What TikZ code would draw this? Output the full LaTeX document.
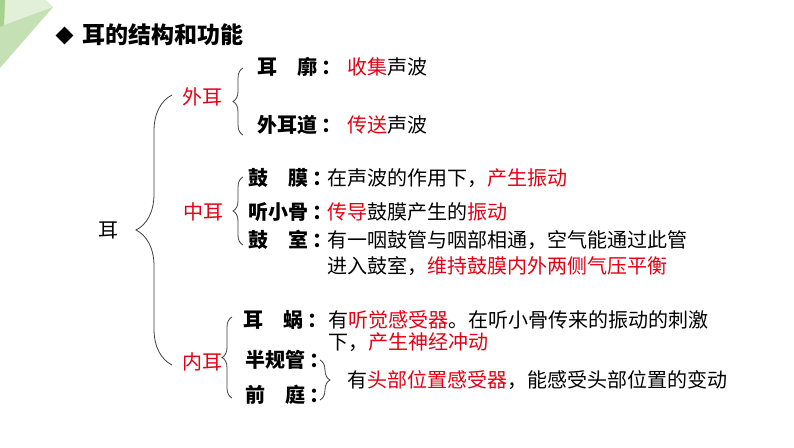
\documentclass[tikz,border=0pt]{standalone}
\usepackage{fontspec}
\setmainfont{Noto Sans CJK SC}
\usetikzlibrary{decorations.pathreplacing,shapes.geometric}
\definecolor{earred}{RGB}{228,0,20}
\definecolor{leafA}{RGB}{197,224,180}
\definecolor{leafB}{RGB}{226,239,217}
\definecolor{leafC}{RGB}{169,209,142}
\newcommand{\sep}{\hspace{0.2em}：}
\tikzset{
  item/.style={anchor=west,inner sep=0pt,text height=17.6pt,text depth=2.4pt,
    font=\fontsize{20}{24}\selectfont},
  part/.style={item,text=earred},
  organ/.style={item,font=\fontsize{20}{24}\selectfont\bfseries},
  curly/.style={decorate,decoration={brace,amplitude=#1},draw=black!75,line width=0.8pt},
}
\begin{document}
\begin{tikzpicture}[x=1pt,y=-1pt]
      \useasboundingbox (0,0) rectangle (794,447);
      \fill[white] (0,0) rectangle (794,447);
      %% corner leaf
      \fill[leafA] (0,0) -- (45,0) -- (53,7) -- (0,68) -- cycle;
      \fill[leafB] (5,0) -- (45,0) -- (53,7) -- (4,25) -- cycle;
      \fill[leafC] (0,0) -- (5,0) -- (4,25) -- (0,27) -- cycle;
      %% title
      \node[diamond,fill=black,minimum size=18pt,inner sep=0pt] (bullet) at (64.5,35.5) {};
      \node[item,text height=20.2pt,text depth=2.8pt,font=\fontsize{23}{28}\selectfont\bfseries] (title) at (82,35) {耳的结构和功能};
      %% root and parts
      \node[item] (ear) at (98,230) {耳};
      \node[part] (outer) at (182,97) {外耳};
      \node[part] (middle) at (183,212) {中耳};
      \node[part] (inner) at (182,362) {内耳};
      %% outer ear
      \node[organ] (pinna) at (257,67) {耳\hspace{1em}廓\sep};
      \node[item] (pinnaF) at (347,67) {\textcolor{earred}{收集}声波};
      \node[organ] (canal) at (257,125) {外耳道\sep};
      \node[item] (canalF) at (347,125) {\textcolor{earred}{传送}声波};
      %% middle ear
      \node[organ] (drum) at (248,178) {鼓\hspace{1em}膜\sep};
      \node[item] (drumF) at (327,178) {在声波的作用下，\textcolor{earred}{产生振动}};
      \node[organ] (ossicle) at (248,212) {听小骨\sep};
      \node[item] (ossicleF) at (327,212) {\textcolor{earred}{传导}鼓膜产生的\textcolor{earred}{振动}};
      \node[organ] (cavity) at (248,240) {鼓\hspace{1em}室\sep};
      \node[item] (cavityF) at (327,240) {有一咽鼓管与咽部相通，空气能通过此管};
      \node[item] (cavityG) at (327,266) {进入鼓室，\textcolor{earred}{维持鼓膜内外两侧气压平衡}};
      %% inner ear
      \node[organ] (cochlea) at (243,320) {耳\hspace{1em}蜗\sep};
      \node[item] (cochleaF) at (328,320) {有\textcolor{earred}{听觉感受器}。在听小骨传来的振动的刺激};
      \node[item] (cochleaG) at (328,342) {下，\textcolor{earred}{产生神经冲动}};
      \node[organ] (semi) at (245,360) {半规管\sep};
      \node[organ] (vestibule) at (245,395) {前\hspace{1em}庭\sep};
      \node[item] (balance) at (347,380) {有\textcolor{earred}{头部位置感受器}，能感受头部位置的变动};
      %% brace ends
      \coordinate (earTop) at (172,95);
      \coordinate (earBot) at (172,365);
      \coordinate (outerTop) at (243,68);
      \coordinate (outerBot) at (243,135);
      \coordinate (middleTop) at (243,177);
      \coordinate (middleBot) at (243,245);
      \coordinate (innerTop) at (232,317);
      \coordinate (innerBot) at (232,398);
      \coordinate (balTop) at (320,360);
      \coordinate (balBot) at (320,400);
      %% braces
      \draw[curly=36] (earBot) -- (earTop);
      \draw[curly=10] (outerBot) -- (outerTop);
      \draw[curly=10] (middleBot) -- (middleTop);
      \draw[curly=10] (innerBot) -- (innerTop);
      \draw[curly=10] (balTop) -- (balBot);
    \end{tikzpicture}
\end{document}
